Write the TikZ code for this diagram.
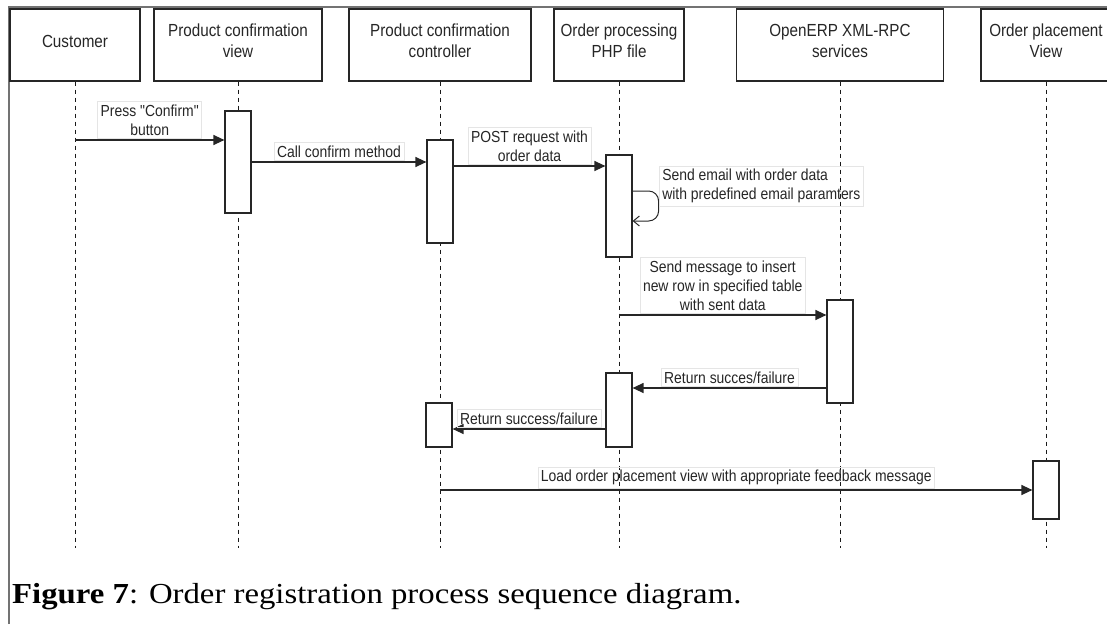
\documentclass[tikz,border=0pt]{standalone}
\usepackage{fontspec}
\setmainfont{Liberation Serif}
\newfontfamily\diagfont{Liberation Sans}[FakeStretch=0.87]
\newfontfamily\capfont{Liberation Serif}[FakeStretch=1.13]
\usetikzlibrary{arrows.meta,calc}
\begin{document}
\begin{tikzpicture}[x=1pt,y=-1pt,
  actor/.style={draw=black!85, line width=1.2pt, minimum width=#1, minimum height=72pt,
    inner sep=0pt, align=center, text=black!85,
    font=\diagfont\fontsize{17.5}{21}\selectfont,
    execute at end node={\rule[-8pt]{0pt}{8pt}}},
  lifeline/.style={draw=black!90, line width=1pt, dash pattern=on 4.5pt off 3.5pt},
  actbar/.style={draw=black!85, fill=white, line width=1.2pt, minimum width=26pt,
    minimum height=#1, inner sep=0pt},
  msg/.style={draw=black!85, line width=1.3pt, -{Triangle[length=11pt,width=10pt]}},
  selfmsg/.style={draw=black!85, line width=1pt, rounded corners=10pt,
    -{Straight Barb[length=6pt,width=10pt]}},
  lbl/.style={draw=black!10, line width=0.6pt, inner xsep=3pt, inner ysep=3pt,
    align=center, text=black!85, font=\diagfont\fontsize{16}{19}\selectfont},
  framec/.style={draw=black!55, line width=1.5pt}
]
\useasboundingbox (0,0) rectangle (1107,624);

% page frame
\draw[framec] (9,624) -- (9,7) -- (1107,7);

% participants
\node[actor=130pt] (h1) at (75,45)  {Customer};
\node[actor=168pt] (h2) at (238,45) {Product confirmation\\view};
\node[actor=182pt] (h3) at (440,45) {Product confirmation\\controller};
\node[actor=130pt] (h4) at (619,45) {Order processing\\PHP file};
\node[actor=207pt] (h5) at (840,45) {OpenERP XML-RPC\\services};
\node[actor=130pt] (h6) at (1046,45) {Order placement\\View};

% lifelines
\coordinate (bottom) at (0,548);
\foreach \p in {h1,h2,h3,h4,h5,h6}
  \draw[lifeline] (\p.south) -- (\p.south |- bottom);

% activation bars
\node[actbar=102pt] (a1) at (238,162)   {};
\node[actbar=103pt] (a2) at (440,191.5) {};
\node[actbar=102pt] (a3) at (619,206)   {};
\node[actbar=103pt] (a4) at (840,351.5) {};
\node[actbar=74pt]  (a5) at (619,410)   {};
\node[actbar=44pt]  (a6) at (439,425)   {};
\node[actbar=58pt]  (a7) at (1046,490)  {};

% messages
\coordinate (m1s) at (75,140);
\draw[msg] (m1s) -- (m1s -| a1.west)
  node[lbl, midway, above, yshift=1.5pt] {Press "Confirm"\\button};

\draw[msg] (a1.east |- 0,162) -- (a2.west |- 0,162)
  node[lbl, midway, above, yshift=1.5pt] {Call confirm method};

\draw[msg] (a2.east |- 0,166) -- (a3.west |- 0,166)
  node[lbl, midway, above, yshift=1.5pt] {POST request with\\order data};

\draw[selfmsg] ([yshift=15pt]a3.east) -- ++(26,0) -- ++(0,30) -- ([yshift=-15pt]a3.east);
\node[lbl, anchor=north west, align=left] (selflbl) at (659,166)
  {Send email with order data\\with predefined email paramters};

\draw[msg] (h4.south |- 0,315) -- (a4.west |- 0,315)
  node[lbl, midway, above, yshift=1.5pt] {Send message to insert\\new row in specified table\\with sent data};

\draw[msg] (a4.west |- 0,388) -- (a5.east |- 0,388)
  node[lbl, midway, above, yshift=1.5pt] {Return succes/failure};

\draw[msg] (a5.west |- 0,429) -- (a6.east |- 0,429)
  node[lbl, midway, above, yshift=1.5pt] {Return success/failure};

\draw[msg] (h3.south |- 0,490) -- (a7.west |- 0,490)
  node[lbl, midway, above, yshift=1.5pt] {Load order placement view with appropriate feedback message};

% caption
\node[anchor=base west, inner sep=0pt, font=\capfont\fontsize{29}{33}\selectfont] (caption) at (12,603)
  {\textbf{Figure 7}: Order registration process sequence diagram.};
\end{tikzpicture}
\end{document}
